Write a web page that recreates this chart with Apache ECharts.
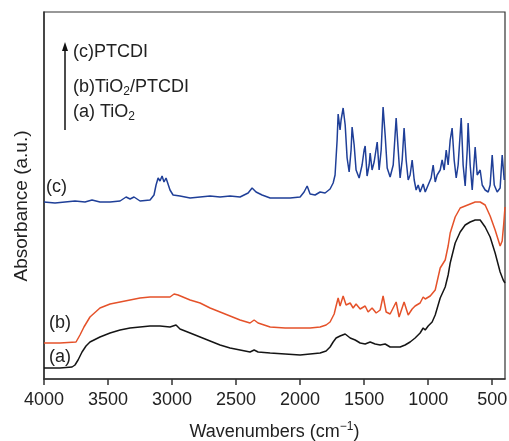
<!DOCTYPE html>
<html>
<head>
<meta charset="utf-8">
<script src="https://cdn.jsdelivr.net/npm/echarts@6/dist/echarts.min.js"></script>
<style>
  html, body { margin: 0; padding: 0; background: #fff; }
  #chart { width: 509px; height: 441px; }
</style>
</head>
<body>
<div id="chart"></div>
<script>
// wavenumber ticks (cm-1)
var xTicks = [4000, 3500, 3000, 2500, 2000, 1500, 1000, 500];

// (a) TiO2 : [wavenumber, absorbance a.u.]
var tio2 = [
  [4000, 0.11], [3875, 0.11], [3781, 0.12], [3758, 0.14], [3734, 0.19], [3703, 0.27],
  [3672, 0.33], [3641, 0.37], [3563, 0.42], [3484, 0.46], [3406, 0.49], [3328, 0.51],
  [3250, 0.52], [3172, 0.53], [3094, 0.53], [3016, 0.52], [2969, 0.54], [2938, 0.50],
  [2859, 0.46], [2781, 0.42], [2703, 0.38], [2625, 0.34], [2547, 0.31], [2469, 0.29],
  [2391, 0.27], [2359, 0.29], [2328, 0.27], [2234, 0.26], [2117, 0.25], [2000, 0.24],
  [1922, 0.25], [1844, 0.26], [1797, 0.28], [1766, 0.32], [1742, 0.37], [1719, 0.41],
  [1688, 0.43], [1648, 0.45], [1609, 0.41], [1570, 0.39], [1531, 0.36], [1492, 0.35],
  [1453, 0.37], [1414, 0.35], [1375, 0.34], [1336, 0.35], [1297, 0.32], [1258, 0.32],
  [1219, 0.32], [1180, 0.34], [1141, 0.37], [1102, 0.41], [1063, 0.46], [1039, 0.51],
  [1023, 0.49], [1000, 0.53], [969, 0.57], [945, 0.64], [906, 0.81], [867, 0.92],
  [844, 1.04], [828, 1.16], [789, 1.36], [750, 1.47], [711, 1.54], [672, 1.57],
  [633, 1.59], [594, 1.59], [555, 1.52], [516, 1.42], [477, 1.26], [438, 1.07],
  [414, 0.99], [400, 0.96]
];

// (b) TiO2/PTCDI
var tio2Ptcdi = [
  [4000, 0.36], [3875, 0.36], [3750, 0.37], [3719, 0.44], [3688, 0.52], [3641, 0.62],
  [3563, 0.71], [3484, 0.75], [3406, 0.77], [3328, 0.79], [3250, 0.81], [3172, 0.82],
  [3094, 0.82], [3016, 0.82], [2984, 0.85], [2969, 0.87], [2953, 0.84], [2938, 0.82],
  [2859, 0.79], [2781, 0.76], [2703, 0.71], [2625, 0.67], [2547, 0.63], [2469, 0.59],
  [2391, 0.56], [2359, 0.59], [2328, 0.56], [2234, 0.52], [2117, 0.51], [2000, 0.51],
  [1922, 0.51], [1844, 0.52], [1797, 0.54], [1766, 0.57], [1734, 0.65], [1719, 0.73],
  [1703, 0.81], [1688, 0.73], [1664, 0.83], [1641, 0.74], [1609, 0.76], [1586, 0.71],
  [1563, 0.75], [1531, 0.70], [1492, 0.73], [1469, 0.67], [1438, 0.71], [1406, 0.66],
  [1375, 0.69], [1352, 0.83], [1328, 0.67], [1297, 0.65], [1250, 0.77], [1227, 0.62],
  [1188, 0.77], [1156, 0.64], [1125, 0.70], [1102, 0.73], [1063, 0.76], [1039, 0.82],
  [1023, 0.80], [984, 0.83], [945, 0.89], [922, 1.02], [906, 1.11], [867, 1.19],
  [844, 1.33], [828, 1.46], [789, 1.62], [750, 1.71], [711, 1.73], [672, 1.75],
  [633, 1.77], [594, 1.77], [555, 1.74], [516, 1.63], [477, 1.49], [438, 1.33],
  [422, 1.38], [410, 1.55], [400, 1.72]
];

// (c) PTCDI
var ptcdi = [
  [4000, 1.77], [3914, 1.76], [3836, 1.77], [3758, 1.78], [3680, 1.77], [3625, 1.79],
  [3563, 1.77], [3484, 1.77], [3406, 1.78], [3359, 1.82], [3328, 1.80], [3297, 1.82],
  [3250, 1.78], [3172, 1.79], [3141, 1.84], [3125, 1.94], [3109, 2.01], [3094, 1.98],
  [3078, 2.03], [3063, 1.97], [3047, 2.01], [3016, 1.89], [2992, 1.84], [2938, 1.83],
  [2859, 1.81], [2781, 1.82], [2703, 1.83], [2625, 1.82], [2547, 1.83], [2469, 1.82],
  [2406, 1.86], [2375, 1.91], [2344, 1.87], [2297, 1.84], [2234, 1.81], [2156, 1.81],
  [2078, 1.81], [2000, 1.82], [1969, 1.87], [1945, 1.93], [1922, 1.85], [1883, 1.84],
  [1844, 1.87], [1805, 1.86], [1766, 1.90], [1742, 1.96], [1727, 2.04], [1711, 2.39],
  [1703, 2.65], [1688, 2.49], [1680, 2.59], [1664, 2.71], [1648, 2.54], [1633, 2.21],
  [1617, 2.07], [1602, 2.29], [1594, 2.52], [1578, 2.34], [1563, 2.09], [1539, 2.01],
  [1516, 2.14], [1500, 2.29], [1492, 2.33], [1477, 2.03], [1461, 2.14], [1453, 2.26],
  [1438, 2.09], [1422, 2.17], [1398, 2.37], [1383, 2.09], [1367, 2.29], [1352, 2.72],
  [1336, 2.44], [1320, 2.11], [1297, 2.02], [1273, 2.14], [1250, 2.61], [1234, 2.29],
  [1219, 2.01], [1203, 2.19], [1188, 2.51], [1172, 2.19], [1156, 1.99], [1141, 2.04],
  [1125, 2.19], [1109, 1.99], [1094, 1.89], [1078, 1.94], [1063, 1.87], [1039, 1.95],
  [1023, 1.87], [1000, 1.94], [977, 2.01], [961, 2.14], [945, 1.97], [930, 2.04],
  [906, 2.09], [891, 2.19], [875, 2.09], [859, 2.29], [844, 2.14], [828, 2.39],
  [813, 2.51], [797, 2.19], [781, 2.01], [766, 2.14], [742, 2.61], [727, 2.14],
  [711, 1.93], [695, 2.29], [688, 2.56], [672, 2.14], [656, 1.89], [633, 2.32],
  [617, 2.04], [594, 2.09], [578, 1.94], [555, 1.89], [531, 1.87], [516, 1.94],
  [500, 2.24], [484, 1.94], [461, 1.87], [438, 1.91], [422, 2.24], [406, 1.99]
];

var font = 'Liberation Sans, Arial, Helvetica, sans-serif';

var chart = echarts.init(document.getElementById('chart'));
chart.setOption({
  animation: false,
  grid: {
    left: 44, right: 4, top: 12, bottom: 62,
    outerBoundsMode: 'none',
    show: true, borderColor: '#333', borderWidth: 1.2
  },
  xAxis: {
    type: 'value',
    min: 400, max: 4000,
    inverse: true,
    name: 'Wavenumbers (cm{sup|\u22121})',
    nameLocation: 'middle',
    nameGap: 42,
    nameTextStyle: {
      fontFamily: font, fontSize: 18, color: '#222',
      rich: { sup: { fontFamily: font, fontSize: 12, color: '#222', padding: [0, 0, 10, 0] } }
    },
    axisLine: { lineStyle: { color: '#333', width: 1.5 } },
    axisTick: { customValues: xTicks, length: 6, lineStyle: { color: '#333', width: 1.5 } },
    axisLabel: {
      customValues: xTicks, margin: 12, fontFamily: font, fontSize: 18, color: '#222',
      formatter: function (v) { return String(v); }
    },
    splitLine: { show: false }
  },
  yAxis: {
    type: 'value',
    min: 0, max: 3.67,
    axisLine: { show: true, lineStyle: { color: '#333', width: 1.5 } },
    axisTick: { show: false },
    axisLabel: { show: false },
    splitLine: { show: false }
  },
  series: [
    { name: '(a) TiO2', type: 'line', data: tio2, showSymbol: false,
      lineStyle: { color: '#151515', width: 1.5 } },
    { name: '(b) TiO2/PTCDI', type: 'line', data: tio2Ptcdi, showSymbol: false,
      lineStyle: { color: '#e5522a', width: 1.5 } },
    { name: '(c) PTCDI', type: 'line', data: ptcdi, showSymbol: false,
      lineStyle: { color: '#1f3f98', width: 1.5 } }
  ],
  graphic: [
    { type: 'text', x: 22, y: 206, rotation: Math.PI / 2,
      style: { text: 'Absorbance (a.u.)', fontFamily: font, fontSize: 19, fill: '#222',
               textAlign: 'center', textVerticalAlign: 'middle' } },
    // arrow
    { type: 'line', shape: { x1: 65, y1: 130, x2: 65, y2: 48 }, style: { stroke: '#111', lineWidth: 1.5 } },
    { type: 'polygon', shape: { points: [[65, 42], [62, 51], [68, 51]] }, style: { fill: '#111' } },
    { type: 'text', x: 73, y: 52,
      style: { text: '(c)PTCDI', fontFamily: font, fontSize: 18, fill: '#222', textVerticalAlign: 'middle' } },
    { type: 'text', x: 73, y: 87,
      style: { rich: { sub: { fontFamily: font, fontSize: 12, fill: '#222', padding: [10, 0, 0, 0] } },
               text: '(b)TiO{sub|2}/PTCDI', fontFamily: font, fontSize: 18, fill: '#222', textVerticalAlign: 'middle' } },
    { type: 'text', x: 73, y: 112,
      style: { rich: { sub: { fontFamily: font, fontSize: 12, fill: '#222', padding: [10, 0, 0, 0] } },
               text: '(a) TiO{sub|2}', fontFamily: font, fontSize: 18, fill: '#222', textVerticalAlign: 'middle' } },
    { type: 'text', x: 46, y: 187,
      style: { text: '(c)', fontFamily: font, fontSize: 18, fill: '#222', textVerticalAlign: 'middle' } },
    { type: 'text', x: 49, y: 323,
      style: { text: '(b)', fontFamily: font, fontSize: 18, fill: '#222', textVerticalAlign: 'middle' } },
    { type: 'text', x: 49, y: 357,
      style: { text: '(a)', fontFamily: font, fontSize: 18, fill: '#222', textVerticalAlign: 'middle' } }
  ]
});
</script>
</body>
</html>
